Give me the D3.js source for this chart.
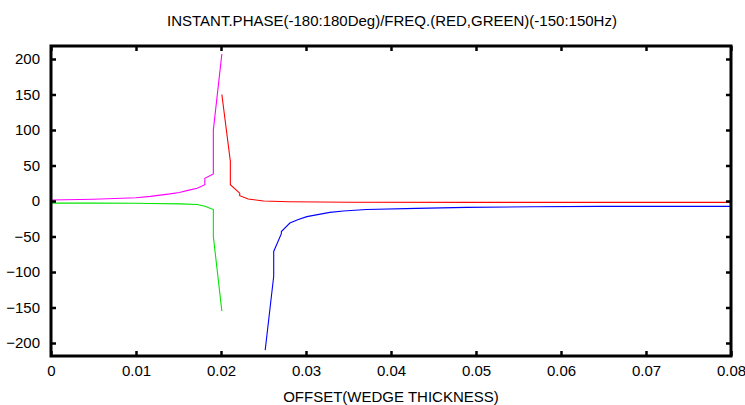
<!DOCTYPE html>
<html>
<head>
<meta charset="utf-8">
<script src="https://d3js.org/d3.v7.min.js"></script>
<style>
  body { margin: 0; background: #fff; }
  text { font-family: "Liberation Sans Narrow", "Arial Narrow", "Liberation Sans", sans-serif; }
</style>
</head>
<body>
<svg id="drawing_region"></svg>
<script>
// phase (magenta) before the wedge edge
const phase_x = [0, 0.005, 0.01, 0.0117, 0.014, 0.0151, 0.0161, 0.0172, 0.0181, 0.0181, 0.0191, 0.0191, 0.0201];
const phase_y = [1.5, 2.5, 4.5, 6.5, 10, 12, 15, 18, 23, 32, 38, 100, 207];
// freq (green) before the wedge edge
const freq_x = [0, 0.005, 0.01, 0.0117, 0.0152, 0.0172, 0.0181, 0.0191, 0.0191, 0.0201];
const freq_y = [-3, -3, -3.2, -3.5, -4, -5, -7.5, -12, -50, -155];
// freq (red) after
const red_x = [0.0201, 0.0211, 0.0211, 0.0222, 0.0222, 0.0232, 0.025, 0.028, 0.035, 0.05, 0.08];
const red_y = [150, 56, 23, 11, 7.5, 2.8, 0, -1, -1.8, -2, -2];
// phase (blue) after
const blue_x = [0.0252, 0.0262, 0.0262, 0.0271, 0.0271, 0.0281, 0.0291, 0.0301, 0.0328, 0.0344, 0.0371, 0.043, 0.0489, 0.0567, 0.0646, 0.08];
const blue_y = [-210, -106, -71, -46, -43, -31, -26, -22, -16, -14, -12, -10.4, -9, -8, -7.6, -7.5];

const x_ticks = [0, 0.01, 0.02, 0.03, 0.04, 0.05, 0.06, 0.07, 0.08];
const y_ticks = [-200, -150, -100, -50, 0, 50, 100, 150, 200];

const title = "INSTANT.PHASE(-180:180Deg)/FREQ.(RED,GREEN)(-150:150Hz)";
const x_label = "OFFSET(WEDGE THICKNESS)";

const series = [
    { xs: phase_x, ys: phase_y, color: "#ff00ff" },
    { xs: freq_x, ys: freq_y, color: "#00e600" },
    { xs: red_x, ys: red_y, color: "#ff0000" },
    { xs: blue_x, ys: blue_y, color: "#0000ff" }
];

const width = 745, height = 405;
const margin = { top: 46, right: 14, bottom: 49, left: 51 };
const inner_width = width - margin.left - margin.right;
const inner_height = height - margin.top - margin.bottom;

const svg = d3.select("#drawing_region")
    .attr("width", width)
    .attr("height", height);

const chart = svg.append("g")
    .attr("transform", `translate(${margin.left}, ${margin.top})`);

const xscale = d3.scaleLinear()
    .domain([0, 0.08])
    .range([0, inner_width]);

const yscale = d3.scaleLinear()
    .domain([-218.3, 218.3])
    .range([inner_height, 0]);

chart.append("clipPath").attr("id", "clip")
    .append("rect")
    .attr("width", inner_width)
    .attr("height", inner_height);

const line = d3.line()
    .x(d => xscale(d[0]))
    .y(d => yscale(d[1]));

chart.append("g").attr("clip-path", "url(#clip)")
    .selectAll("path")
    .data(series)
    .enter()
    .append("path")
    .attr("fill", "none")
    .attr("stroke", d => d.color)
    .attr("stroke-width", 1.1)
    .attr("d", d => line(d.xs.map((x, i) => [x, d.ys[i]])));

// axes (ticks point inward on all four sides)
const xaxis = d3.axisBottom(xscale).tickValues(x_ticks).tickSize(-5).tickSizeOuter(0)
    .tickPadding(9).tickFormat(d => d === 0 ? "0" : d3.format(".2")(d));
const xaxis_top = d3.axisTop(xscale).tickValues(x_ticks).tickSize(-5).tickSizeOuter(0).tickFormat("");
const yaxis = d3.axisLeft(yscale).tickValues(y_ticks).tickSize(-5).tickSizeOuter(0).tickPadding(11);
const yaxis_right = d3.axisRight(yscale).tickValues(y_ticks).tickSize(-5).tickSizeOuter(0).tickFormat("");

chart.append("g")
    .attr("transform", `translate(0, ${inner_height})`)
    .call(xaxis);
chart.append("g").call(xaxis_top);
chart.append("g").call(yaxis);
chart.append("g").attr("transform", `translate(${inner_width}, 0)`).call(yaxis_right);

chart.selectAll(".domain").remove();
chart.selectAll(".tick line").attr("stroke", "#000").attr("stroke-width", 2.5);
chart.selectAll(".tick text").attr("fill", "#000").attr("font-size", "15px")
    .attr("font-family", "'Liberation Sans Narrow', 'Liberation Sans', sans-serif");

chart.append("rect")
    .attr("width", inner_width)
    .attr("height", inner_height)
    .attr("fill", "none")
    .attr("stroke", "#000")
    .attr("stroke-width", 3);

svg.append("text")
    .attr("x", 392)
    .attr("y", 26)
    .attr("text-anchor", "middle")
    .attr("font-size", "15px")
    .attr("fill", "#000")
    .text(title);

svg.append("text")
    .attr("x", 391)
    .attr("y", 402)
    .attr("text-anchor", "middle")
    .attr("font-size", "15px")
    .attr("fill", "#000")
    .text(x_label);
</script>
</body>
</html>
